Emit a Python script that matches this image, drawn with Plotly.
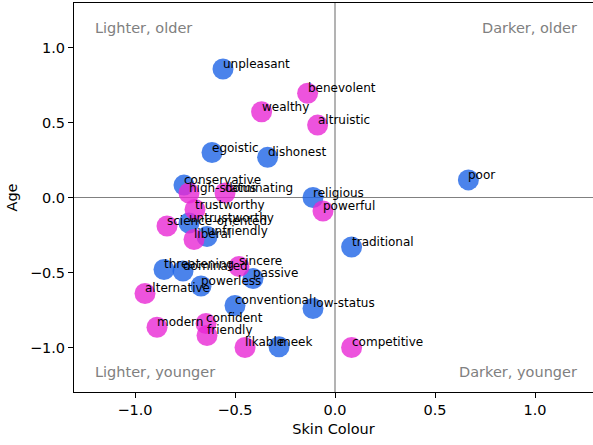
import plotly.graph_objects as go

# Blue series
blue_words = ["unpleasant", "egoistic", "dishonest", "conservative", "religious", "poor",
              "untrustworthy", "unfriendly", "traditional", "threatening", "dominated",
              "passive", "powerless", "conventional", "low-status", "meek"]
blue_x = [-0.56, -0.615, -0.337, -0.755, -0.11, 0.667, -0.73, -0.64, 0.083, -0.855, -0.76,
          -0.41, -0.67, -0.50, -0.11, -0.28]
blue_y = [0.857, 0.30, 0.268, 0.083, 0.0, 0.117, -0.17, -0.26, -0.33, -0.48, -0.49,
          -0.54, -0.59, -0.72, -0.74, -0.995]

# Pink series
pink_words = ["benevolent", "wealthy", "altruistic", "high-status", "dominating", "trustworthy",
              "powerful", "science-oriented", "liberal", "sincere", "alternative", "modern",
              "confident", "friendly", "likable", "competitive"]
pink_x = [-0.137, -0.367, -0.087, -0.73, -0.55, -0.70, -0.06, -0.84, -0.705, -0.48, -0.95,
          -0.89, -0.645, -0.64, -0.45, 0.083]
pink_y = [0.695, 0.572, 0.483, 0.03, 0.03, -0.08, -0.09, -0.19, -0.28, -0.46, -0.64,
          -0.865, -0.84, -0.92, -1.0, -1.0]

tick_vals = [-1.0, -0.5, 0.0, 0.5, 1.0]
tick_text = ["\u22121.0", "\u22120.5", "0.0", "0.5", "1.0"]

quad_labels = ["Lighter, older", "Darker, older", "Lighter, younger", "Darker, younger"]
quad_x = [-1.205, 1.215, -1.205, 1.215]
quad_y = [1.13, 1.13, -1.163, -1.163]
quad_anchor = ["left", "right", "left", "right"]

FONT = "DejaVu Sans"
fig = go.Figure()

fig.add_hline(y=0, line=dict(color="#808080", width=1.2), layer="below")
fig.add_vline(x=0, line=dict(color="#808080", width=1.2), layer="below")

fig.add_trace(go.Scatter(x=blue_x, y=blue_y, mode="markers",
                         marker=dict(size=21, color="rgba(30,100,230,0.8)", line=dict(width=0)),
                         showlegend=False, hoverinfo="skip"))
fig.add_trace(go.Scatter(x=pink_x, y=pink_y, mode="markers",
                         marker=dict(size=21, color="rgba(232,40,212,0.8)", line=dict(width=0)),
                         showlegend=False, hoverinfo="skip"))

annotations = []
for words, xs, ys in [(blue_words, blue_x, blue_y), (pink_words, pink_x, pink_y)]:
    for w, x, y in zip(words, xs, ys):
        annotations.append(dict(x=x, y=y, text=w, showarrow=False, xanchor="left",
                                yanchor="middle", xshift=-1, yshift=5, borderpad=0,
                                font=dict(family=FONT, size=12, color="black")))
for t, x, y, a in zip(quad_labels, quad_x, quad_y, quad_anchor):
    annotations.append(dict(x=x, y=y, text=t, showarrow=False, xanchor=a, yanchor="middle",
                            borderpad=0, font=dict(family=FONT, size=14.5, color="#808080")))

axis_common = dict(showgrid=False, zeroline=False, showline=True,
                   linecolor="black", linewidth=1, mirror=True, ticks="outside", ticklen=5,
                   tickcolor="black", tickvals=tick_vals, ticktext=tick_text,
                   tickfont=dict(family=FONT, size=14.5, color="black"))

fig.update_layout(
    width=593, height=445,
    margin=dict(l=74, r=0, t=3, b=53),
    paper_bgcolor="white", plot_bgcolor="white",
    xaxis=dict(**axis_common, range=[-1.305, 1.29],
               title=dict(text="Skin Colour", standoff=6,
                          font=dict(family=FONT, size=14.5, color="black"))),
    yaxis=dict(**axis_common, range=[-1.297, 1.297],
               title=dict(text="Age", standoff=8,
                          font=dict(family=FONT, size=14.5, color="black"))),
    annotations=annotations,
)

fig.write_html("out.html", config={"displayModeBar": False},
               post_script="document.body.style.margin='0';document.body.style.overflow='hidden';")
